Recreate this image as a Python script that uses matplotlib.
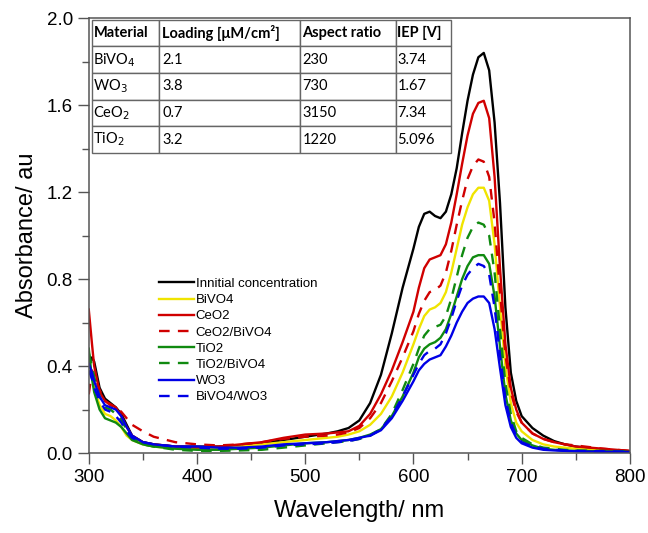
import matplotlib
matplotlib.use("Agg")
import matplotlib.pyplot as plt
from matplotlib.ticker import MultipleLocator, FormatStrFormatter

plt.rcParams["font.family"] = ["Liberation Sans", "DejaVu Sans"]

wavelength = [300, 303, 305, 310, 315, 320, 325, 330, 335, 340,
              350, 360, 380, 400, 420, 440, 460, 480, 500, 520,
              530, 540, 550, 560, 570, 580, 590, 600, 605, 610,
              615, 620, 625, 630, 635, 640, 645, 650, 655, 660,
              665, 670, 675, 680, 685, 690, 695, 700, 710, 720,
              730, 740, 750, 775, 800]

initial = [0.40, 0.44, 0.42, 0.30, 0.25, 0.23, 0.21, 0.18, 0.13, 0.08,
           0.05, 0.04, 0.03, 0.03, 0.03, 0.035, 0.045, 0.06, 0.075, 0.09,
           0.10, 0.115, 0.15, 0.23, 0.36, 0.55, 0.76, 0.94, 1.04, 1.10,
           1.11, 1.09, 1.08, 1.11, 1.19, 1.31, 1.47, 1.62, 1.74, 1.82,
           1.84, 1.76, 1.52, 1.15, 0.67, 0.37, 0.24, 0.17, 0.115, 0.08,
           0.055, 0.04, 0.03, 0.015, 0.008]
bivo4 = [0.42, 0.36, 0.30, 0.22, 0.18, 0.17, 0.15, 0.12, 0.08, 0.06,
         0.04, 0.03, 0.02, 0.02, 0.02, 0.03, 0.04, 0.05, 0.06, 0.07,
         0.075, 0.085, 0.10, 0.13, 0.18, 0.26, 0.37, 0.50, 0.57, 0.63,
         0.66, 0.67, 0.69, 0.74, 0.83, 0.94, 1.05, 1.13, 1.19, 1.22,
         1.22, 1.16, 0.96, 0.67, 0.40, 0.23, 0.14, 0.10, 0.06, 0.04,
         0.03, 0.025, 0.02, 0.012, 0.008]
ceo2 = [0.66, 0.50, 0.40, 0.28, 0.24, 0.225, 0.21, 0.17, 0.12, 0.08,
        0.05, 0.04, 0.03, 0.025, 0.03, 0.04, 0.05, 0.07, 0.085, 0.09,
        0.095, 0.10, 0.125, 0.18, 0.27, 0.38, 0.51, 0.65, 0.76, 0.85,
        0.89, 0.90, 0.91, 0.96, 1.06, 1.19, 1.33, 1.46, 1.56, 1.61,
        1.62, 1.54, 1.27, 0.85, 0.50, 0.30, 0.20, 0.14, 0.09, 0.065,
        0.05, 0.04, 0.03, 0.02, 0.01]
ceo2_bivo4 = [0.27, 0.38, 0.36, 0.29, 0.24, 0.22, 0.21, 0.19, 0.16, 0.13,
              0.10, 0.075, 0.05, 0.04, 0.035, 0.04, 0.05, 0.065, 0.075, 0.08,
              0.085, 0.095, 0.115, 0.16, 0.23, 0.33, 0.44, 0.56, 0.64, 0.70,
              0.74, 0.75, 0.77, 0.83, 0.93, 1.05, 1.16, 1.26, 1.32, 1.35,
              1.34, 1.27, 1.06, 0.74, 0.45, 0.28, 0.19, 0.14, 0.09, 0.065,
              0.05, 0.04, 0.035, 0.02, 0.01]
tio2 = [0.48, 0.34, 0.28, 0.20, 0.16, 0.15, 0.14, 0.12, 0.09, 0.06,
        0.04, 0.03, 0.02, 0.015, 0.015, 0.02, 0.025, 0.035, 0.045, 0.05,
        0.055, 0.06, 0.07, 0.085, 0.11, 0.17, 0.26, 0.37, 0.44, 0.48,
        0.50, 0.51, 0.53, 0.57, 0.64, 0.72, 0.80, 0.86, 0.90, 0.91,
        0.91, 0.87, 0.72, 0.49, 0.27, 0.15, 0.09, 0.06, 0.035, 0.02,
        0.015, 0.012, 0.01, 0.008, 0.006]
tio2_bivo4 = [0.46, 0.40, 0.35, 0.26, 0.21, 0.20, 0.18, 0.15, 0.11, 0.07,
              0.04, 0.03, 0.015, 0.01, 0.01, 0.012, 0.015, 0.025, 0.035, 0.045,
              0.05, 0.055, 0.065, 0.08, 0.11, 0.18, 0.29, 0.41, 0.48, 0.54,
              0.57, 0.58, 0.59, 0.63, 0.71, 0.81, 0.91, 0.99, 1.04, 1.06,
              1.05, 1.00, 0.83, 0.57, 0.32, 0.18, 0.10, 0.07, 0.04, 0.025,
              0.02, 0.015, 0.012, 0.01, 0.008]
wo3 = [0.41, 0.37, 0.33, 0.26, 0.22, 0.21, 0.20, 0.17, 0.12, 0.08,
       0.05, 0.04, 0.03, 0.03, 0.025, 0.025, 0.03, 0.04, 0.045, 0.05,
       0.055, 0.06, 0.07, 0.08, 0.105, 0.16, 0.24, 0.33, 0.38, 0.41,
       0.43, 0.44, 0.45, 0.49, 0.54, 0.60, 0.65, 0.69, 0.71, 0.72,
       0.72, 0.69, 0.57, 0.39, 0.22, 0.12, 0.07, 0.045, 0.025, 0.015,
       0.012, 0.01, 0.008, 0.006, 0.005]
bivo4_wo3 = [0.38, 0.34, 0.30, 0.24, 0.20, 0.19, 0.17, 0.14, 0.10, 0.07,
             0.05, 0.04, 0.03, 0.025, 0.02, 0.02, 0.025, 0.035, 0.04, 0.045,
             0.05, 0.055, 0.065, 0.08, 0.11, 0.17, 0.26, 0.36, 0.41, 0.45,
             0.47, 0.48, 0.50, 0.55, 0.62, 0.70, 0.77, 0.82, 0.85, 0.87,
             0.86, 0.82, 0.67, 0.45, 0.25, 0.14, 0.08, 0.05, 0.03, 0.02,
             0.015, 0.012, 0.01, 0.008, 0.006]

series = [
    ("Innitial concentration", initial, "#000000", "-"),
    ("BiVO4", bivo4, "#f0e400", "-"),
    ("CeO2", ceo2, "#d00000", "-"),
    ("CeO2/BiVO4", ceo2_bivo4, "#d00000", "--"),
    ("TiO2", tio2, "#108a10", "-"),
    ("TiO2/BiVO4", tio2_bivo4, "#108a10", "--"),
    ("WO3", wo3, "#0000e6", "-"),
    ("BiVO4/WO3", bivo4_wo3, "#0000e6", "--"),
]

table_header = ["Material", "Loading [\u03bcM/cm\u00b2]", "Aspect ratio", "IEP [V]"]
table_materials = ["BiVO$_4$", "WO$_3$", "CeO$_2$", "TiO$_2$"]
table_loading = ["2.1", "3.8", "0.7", "3.2"]
table_aspect = ["230", "730", "3150", "1220"]
table_iep = ["3.74", "1.67", "7.34", "5.096"]

fig = plt.figure(figsize=(6.48, 5.33), dpi=100)
ax = fig.add_axes([0.137, 0.150, 0.835, 0.816])

for label, vals, color, ls in series:
    line, = ax.plot(wavelength, vals, color=color, linestyle=ls, lw=1.7,
                    label=label, solid_joinstyle="round")
    if ls == "--":
        line.set_dashes((4.5, 3.5))

ax.set_xlim(300, 800)
ax.set_ylim(0, 2.0)
ax.xaxis.set_major_locator(MultipleLocator(100))
ax.xaxis.set_minor_locator(MultipleLocator(50))
ax.yaxis.set_major_locator(MultipleLocator(0.4))
ax.yaxis.set_minor_locator(MultipleLocator(0.2))
ax.yaxis.set_major_formatter(FormatStrFormatter("%.1f"))
ax.tick_params(which="both", direction="out", top=False, right=False,
               color="#555555", labelsize=13.5)
ax.tick_params(which="major", length=8, width=1)
ax.tick_params(which="minor", length=5, width=1)
for sp in ax.spines.values():
    sp.set_color("#555555")
    sp.set_linewidth(1.1)

ax.set_xlabel("Wavelength/ nm", fontsize=17, labelpad=10)
ax.set_ylabel("Absorbance/ au", fontsize=17, labelpad=6)

ax.legend(loc="upper left", bbox_to_anchor=(0.117, 0.418), frameon=False,
          fontsize=9.5, handlelength=2.7, handletextpad=0.1,
          labelspacing=0.3, borderpad=0)

cells = [[m, l, a, i] for m, l, a, i in zip(table_materials, table_loading, table_aspect, table_iep)]
tab = ax.table(cellText=cells, colLabels=table_header, cellLoc="left", colLoc="left",
               colWidths=[67, 141, 96, 55], bbox=[0.0055, 0.690, 0.664, 0.306])
tab.auto_set_font_size(False)
for (r, c), cell in tab.get_celld().items():
    cell.set_edgecolor("#666666")
    cell.set_linewidth(1.0)
    cell.PAD = 0.025
    txt = cell.get_text()
    txt.set_fontsize(10.5)
    txt.set_fontfamily(["Lato", "DejaVu Sans"])
    if r == 0:
        txt.set_fontweight("bold")

fig.savefig("out.png", dpi=100)
